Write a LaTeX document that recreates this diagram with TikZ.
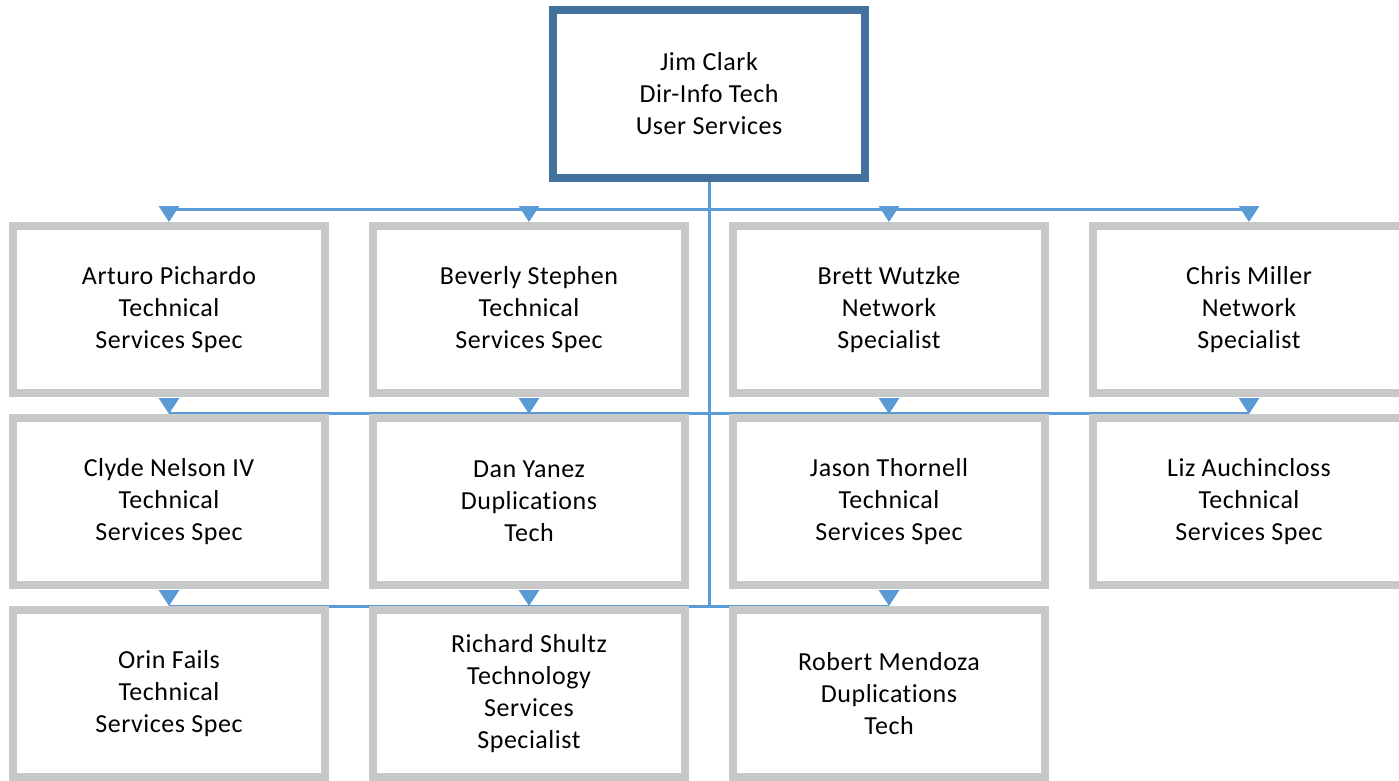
\documentclass[tikz,border=0pt]{standalone}
\usepackage{fontspec}
\setmainfont{Carlito}[Ligatures=NoCommon, LetterSpace=2]
\usetikzlibrary{arrows.meta}
\definecolor{boxgray}{RGB}{200,200,200}
\definecolor{headblue}{RGB}{65,113,156}
\definecolor{wireblue}{RGB}{91,155,213}
\pgfdeclarelayer{background}
\pgfsetlayers{background,main}

\begin{document}
\begin{tikzpicture}[x=1pt, y=-1pt,
    person/.style={draw=boxgray, line width=8pt, fill=white, inner sep=0pt,
        minimum width=312pt, minimum height=167pt, align=center,
        font=\fontsize{26}{32}\selectfont},
    head/.style={person, draw=headblue, minimum height=168pt},
    wire/.style={draw=wireblue, line width=3pt},
    tip/.style={wire, -{Triangle[length=16pt, width=20pt]}}]
    % 画布: 1399 x 780, 1px = 1pt, y 向下
    % 第四列超出右边界, 用 clip 裁掉
    \useasboundingbox (0,0) rectangle (1399,780);
    \clip (0,0) rectangle (1399,780);

    % 主管
    \node[head] (clark) at (709,94) {Jim Clark\\Dir-Info Tech\\User Services};

    % 第一行
    \node[person] (pichardo) at (169,309.5) {Arturo Pichardo\\Technical\\Services Spec};
    \node[person] (stephen)  at (529,309.5) {Beverly Stephen\\Technical\\Services Spec};
    \node[person] (wutzke)   at (889,309.5) {Brett Wutzke\\Network\\Specialist};
    \node[person] (miller)   at (1249,309.5) {Chris Miller\\Network\\Specialist};

    % 第二行
    \node[person] (nelson)     at (169,501.5) {Clyde Nelson IV\\Technical\\Services Spec};
    \node[person] (yanez)      at (529,501.5) {Dan Yanez\\Duplications\\Tech};
    \node[person] (thornell)   at (889,501.5) {Jason Thornell\\Technical\\Services Spec};
    \node[person] (auchincloss) at (1249,501.5) {Liz Auchincloss\\Technical\\Services Spec};

    % 第三行
    \node[person] (fails)   at (169,693.5) {Orin Fails\\Technical\\Services Spec};
    \node[person] (shultz)  at (529,693.5) {Richard Shultz\\Technology\\Services\\Specialist};
    \node[person] (mendoza) at (889,693.5) {Robert Mendoza\\Duplications\\Tech};

    % 连线: 主干 + 三条横线 + 箭头
    \coordinate (bus1) at (709,209);
    \coordinate (bus2) at (709,413);
    \coordinate (bus3) at (709,606);

    \begin{pgfonlayer}{background}
        \draw[wire] (clark.south) -- (bus3);
        \foreach \n/\b in {pichardo/bus1, stephen/bus1, wutzke/bus1, miller/bus1,
                           nelson/bus2, yanez/bus2, thornell/bus2, auchincloss/bus2,
                           fails/bus3, shultz/bus3, mendoza/bus3}
        {
            \draw[wire] (\b) -- (\n.north |- \b);
            \draw[tip] ([yshift=15pt]\n.north) -- (\n.north);
        }
    \end{pgfonlayer}
\end{tikzpicture}
\end{document}
